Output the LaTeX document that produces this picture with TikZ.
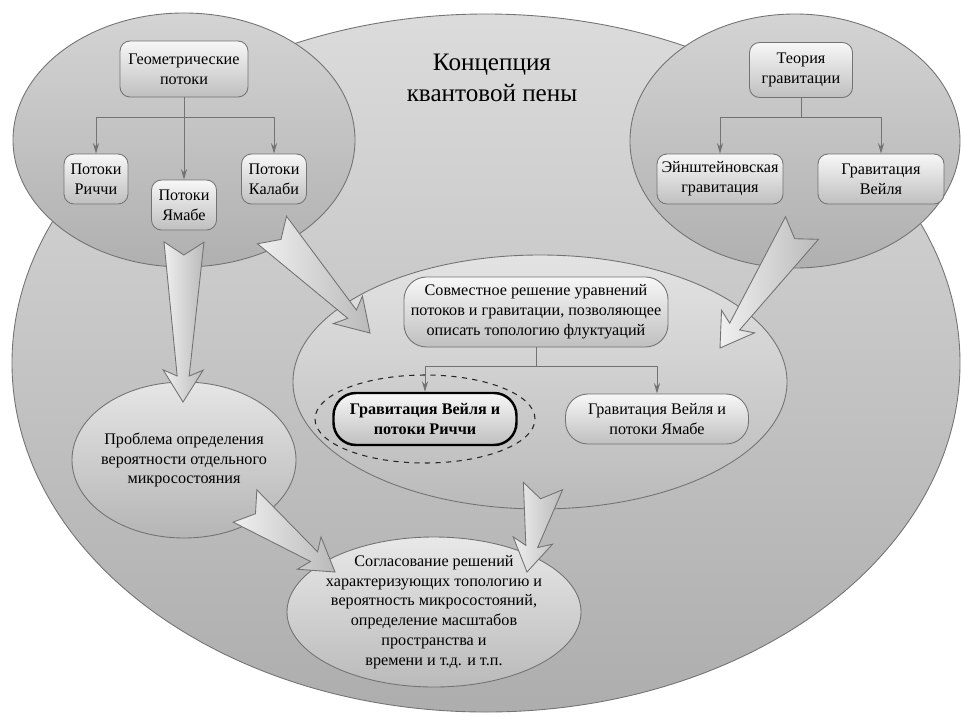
\documentclass[tikz,border=0pt]{standalone}
\usepackage{fontspec}
\setmainfont{Liberation Serif}
\newfontfamily\timesfont{Liberation Serif}
\usetikzlibrary{shapes.geometric,arrows.meta,calc}

\tikzset{
  zone/.style={ellipse, draw=black!55, line width=0.5pt, top color=black!17, bottom color=black!31},
  item/.style={draw=black!55, line width=0.5pt, rounded corners=2mm, top color=black!3, bottom color=black!25,
    align=center, inner sep=1pt, font=\timesfont\fontsize{9.2}{11.3}\selectfont},
  pill/.style={item, rounded corners=4.5mm},
  link/.style={draw=black!55, line width=0.5pt, -{Stealth[length=6pt,width=3.5pt,inset=2pt]}},
  fatarrow/.style={draw=black!55, line width=0.5pt, left color=black!6, right color=black!27, line join=miter},
}
% block arrow: tail coordinate, tip coordinate
\newcommand{\fatarrow}[2]{%
  \draw[fatarrow] ($(#1)!4mm!90:(#2)$) -- ($(#1)!2.6mm!(#2)$) -- ($(#1)!4mm!-90:(#2)$)
    -- ($($(#2)!5.2mm!(#1)$)!1.2mm!-90:(#2)$) -- ($($(#2)!6.4mm!(#1)$)!4mm!-90:(#2)$)
    -- (#2)
    -- ($($(#2)!6.4mm!(#1)$)!4mm!90:(#2)$) -- ($($(#2)!5.2mm!(#1)$)!1.2mm!90:(#2)$) -- cycle;}

\begin{document}
\begin{tikzpicture}[x=0.2mm, y=-0.2mm]
\useasboundingbox (0,0) rectangle (961,715);
\fill[white] (0,0) rectangle (961,715);

% zones
\node[zone, top color=black!14, bottom color=black!32, minimum width=189.6mm, minimum height=139.6mm] (foam) at (486,363) {};
\node[font=\timesfont\fontsize{14.3}{18}\selectfont, align=center] (title) at (492,78) {Концепция\\квантовой пены};
\node[zone, minimum width=68.4mm, minimum height=50.8mm] (geo) at (184,140) {};
\node[zone, minimum width=66mm, minimum height=50.8mm] (grav) at (795,141) {};
\node[zone, top color=black!11, bottom color=black!27, minimum width=98.8mm, minimum height=50.8mm] (joint) at (540,382) {};
\node[zone, top color=black!10, bottom color=black!29, inner sep=-1mm, align=center,
  minimum width=44.8mm, minimum height=31.2mm, font=\timesfont\fontsize{9.2}{11.1}\selectfont] (problem) at (184,460)
  {Проблема определения\\вероятности отдельного\\микросостояния};
\node[zone, top color=black!9, bottom color=black!27, inner sep=-1.2mm, align=center,
  minimum width=58.8mm, minimum height=30mm, font=\timesfont\fontsize{9.2}{11.3}\selectfont] (agree) at (434,612)
  {Согласование решений\\характеризующих топологию и\\вероятность микросостояний,\\определение масштабов\\пространства и\\времени и т.д. и т.п.};

% geometric flows
\node[item, minimum width=25.6mm, minimum height=11.2mm] (geoflow) at (184,69) {Геометрические\\потоки};
\node[item, minimum width=12.8mm, minimum height=10mm] (ricci) at (96,179) {Потоки\\Риччи};
\node[item, minimum width=13mm, minimum height=10mm] (yamabe) at (184,205) {Потоки\\Ямабе};
\node[item, minimum width=13mm, minimum height=10mm] (calabi) at (274,179) {Потоки\\Калаби};
\draw[link] (geoflow.south) -- (yamabe.north);
\draw[link] (geoflow.south) -- ++(0,20) -| (ricci.north);
\draw[link] (geoflow.south) -- ++(0,20) -| (calabi.north);

% gravity
\node[item, minimum width=20.6mm, minimum height=11mm] (gravth) at (801,70) {Теория\\гравитации};
\node[item, minimum width=25.2mm, minimum height=10mm] (einst) at (720,179) {Эйнштейновская\\гравитация};
\node[item, minimum width=25.2mm, minimum height=10mm] (weyl) at (881,179) {Гравитация\\Вейля};
\draw[link] (gravth.south) -- ++(0,19) -| (einst.north);
\draw[link] (gravth.south) -- ++(0,19) -| (weyl.north);

% joint solution
\node[pill, minimum width=52.8mm, minimum height=14mm] (jointbox) at (536,312)
  {Совместное решение уравнений\\потоков и гравитации, позволяющее\\описать топологию флуктуаций};
\node[ellipse, draw=black!85, dashed, line width=0.6pt, minimum width=44mm, minimum height=17.6mm] (focus) at (425,419) {};
\node[pill, draw=black, line width=1.4pt, minimum width=36.6mm, minimum height=10.4mm,
  font=\timesfont\fontsize{9.2}{11.3}\selectfont\bfseries] (ricciweyl) at (425,419) {Гравитация Вейля и\\потоки Риччи};
\node[pill, minimum width=36.6mm, minimum height=10mm] (yamabeweyl) at (657,419) {Гравитация Вейля и\\потоки Ямабе};
\draw[link] (jointbox.south) -- ++(0,19) -| (ricciweyl.north);
\draw[link] (jointbox.south) -- ++(0,19) -| (yamabeweyl.north);

% block arrows
\coordinate (a1s) at (184,242); \coordinate (a1e) at (183,402);
\coordinate (a2s) at (272,230); \coordinate (a2e) at (370,333);
\coordinate (a3s) at (802,228); \coordinate (a3e) at (720,348);
\coordinate (a4s) at (245,506); \coordinate (a4e) at (335,572);
\coordinate (a5s) at (543,486); \coordinate (a5e) at (527,572);
\fatarrow{a1s}{a1e}
\fatarrow{a2s}{a2e}
\fatarrow{a3s}{a3e}
\fatarrow{a4s}{a4e}
\fatarrow{a5s}{a5e}
\end{tikzpicture}
\end{document}
